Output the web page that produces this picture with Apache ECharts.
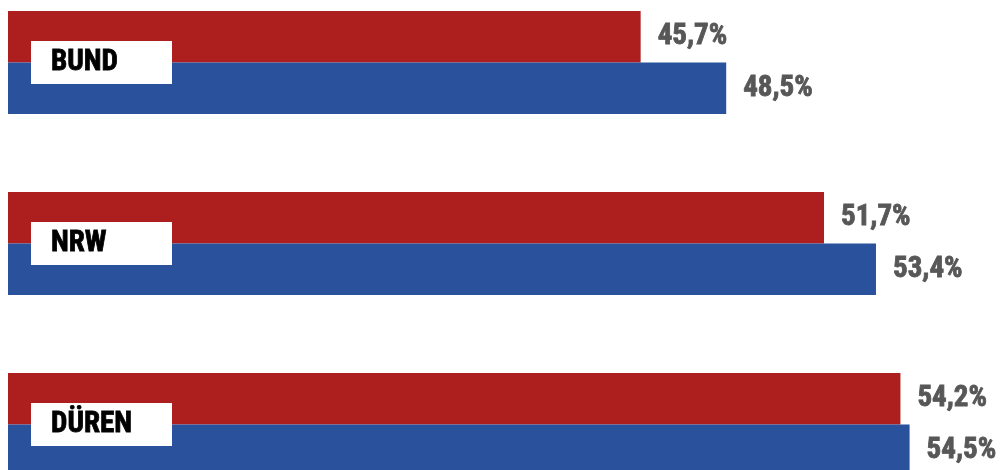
<!DOCTYPE html>
<html>
<head>
<meta charset="utf-8">
<script src="https://cdn.jsdelivr.net/npm/echarts@6/dist/echarts.min.js"></script>
<style>
  html, body { margin: 0; padding: 0; background: #fff; }
  #chart { width: 1003px; height: 470px; }
</style>
</head>
<body>
<div id="chart"></div>
<script>
const categories = ['BUND', 'NRW', 'DÜREN']
const redValues = [45.7, 51.7, 54.2]
const blueValues = [48.5, 53.4, 54.5]

const FONT = '"Roboto Condensed", "Open Sans Condensed", "DejaVu Sans Condensed", sans-serif'

const chart = echarts.init(document.getElementById('chart'))

function fmt(p) {
  return p.value.toFixed(1).replace('.', ',') + '%'
}

const valueLabel = {
  show: true,
  position: 'right',
  distance: 17,
  formatter: fmt,
  color: '#575757',
  textBorderColor: '#575757',
  textBorderWidth: 0.8,
  fontFamily: FONT,
  fontWeight: 'bold',
  fontSize: 29
}

chart.setOption({
  backgroundColor: '#fff',
  animation: false,
  grid: {
    left: 8,
    right: 17,
    top: -28,
    bottom: -45,
    outerBoundsMode: 'none'
  },
  xAxis: {
    type: 'value',
    min: 25,
    max: 57,
    show: false
  },
  yAxis: {
    type: 'category',
    inverse: true,
    data: categories,
    z: 10,
    axisLine: { show: false },
    axisTick: { show: false },
    splitLine: { show: false },
    axisLabel: {
      inside: true,
      margin: 23,
      color: '#000',
      textBorderColor: '#000',
      textBorderWidth: 0.8,
      fontFamily: FONT,
      fontWeight: 'bold',
      fontSize: 29,
      backgroundColor: '#fff',
      padding: [0, 0, 0, 20],
      width: 121,
      height: 43,
      lineHeight: 43,
      verticalAlign: 'middle'
    }
  },
  series: [
    {
      type: 'bar',
      name: 'rot',
      data: redValues,
      barWidth: 51.5,
      barGap: 0,
      itemStyle: { color: '#ad1e1f' },
      label: valueLabel
    },
    {
      type: 'bar',
      name: 'blau',
      data: blueValues,
      barWidth: 51.5,
      barGap: 0,
      itemStyle: { color: '#2a519c' },
      label: valueLabel
    }
  ]
})
</script>
</body>
</html>
